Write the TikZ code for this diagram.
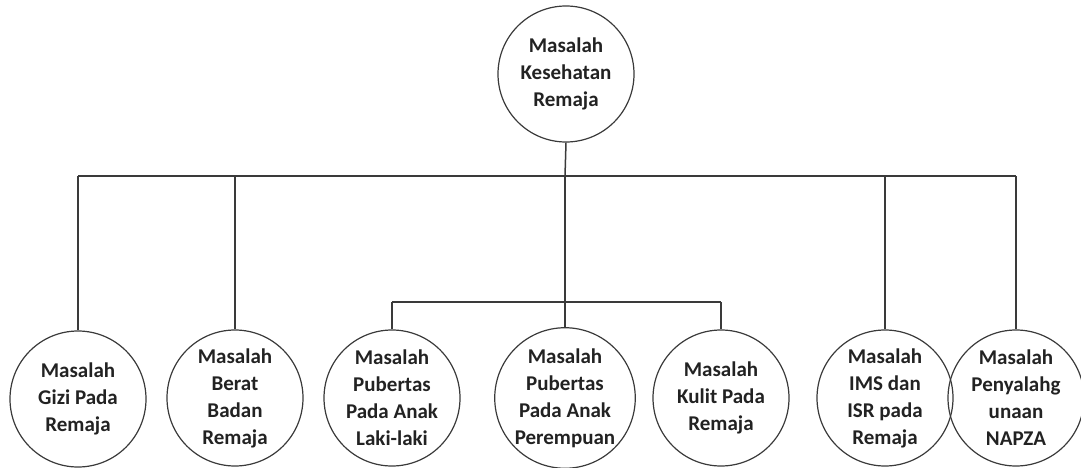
\documentclass[tikz,border=0pt]{standalone}
\usepackage{fontspec}
\setmainfont{Carlito}
\definecolor{linegray}{HTML}{3A3A3A}
\definecolor{textgray}{HTML}{222222}
\begin{document}
\begin{tikzpicture}[x=1pt,y=-1pt,
  bubble/.style={circle,draw=linegray,line width=1.2pt,minimum size=136pt,inner sep=0pt,
    align=center,text=textgray,font=\bfseries\fontsize{21}{27}\selectfont},
  link/.style={draw=linegray,line width=1.5pt}]
\useasboundingbox (0,0) rectangle (1081,468);
\node[bubble] (top) at (566,74) {Masalah\\Kesehatan\\Remaja};
\node[bubble] (gizi) at (78,399) {Masalah\\Gizi Pada\\Remaja};
\node[bubble] (berat) at (235,398) {Masalah\\Berat\\Badan\\Remaja};
\node[bubble] (laki) at (392,398) {Masalah\\Pubertas\\Pada Anak\\Laki-laki};
\node[bubble] (perem) at (565,398) {Masalah\\Pubertas\\Pada Anak\\Perempuan};
\node[bubble] (kulit) at (721,398) {Masalah\\Kulit Pada\\Remaja};
\node[bubble] (ims) at (885,398) {Masalah\\IMS dan\\ISR pada\\Remaja};
\node[bubble] (napza) at (1016,398) {Masalah\\Penyalahg\\unaan\\NAPZA};
\coordinate (bar) at (565,176);
\coordinate (sub) at (565,302);
\draw[link] (top.south) -- (bar);
\draw[link] (gizi.north |- bar) -- (napza.north |- bar);
\foreach \n in {gizi,berat,ims,napza}{
  \draw[link] (\n.north |- bar) -- (\n.north);
}
\draw[link] (bar) -- (perem.north);
\draw[link] (laki.north |- sub) -- (kulit.north |- sub);
\draw[link] (laki.north |- sub) -- (laki.north);
\draw[link] (kulit.north |- sub) -- (kulit.north);
\end{tikzpicture}
\end{document}
